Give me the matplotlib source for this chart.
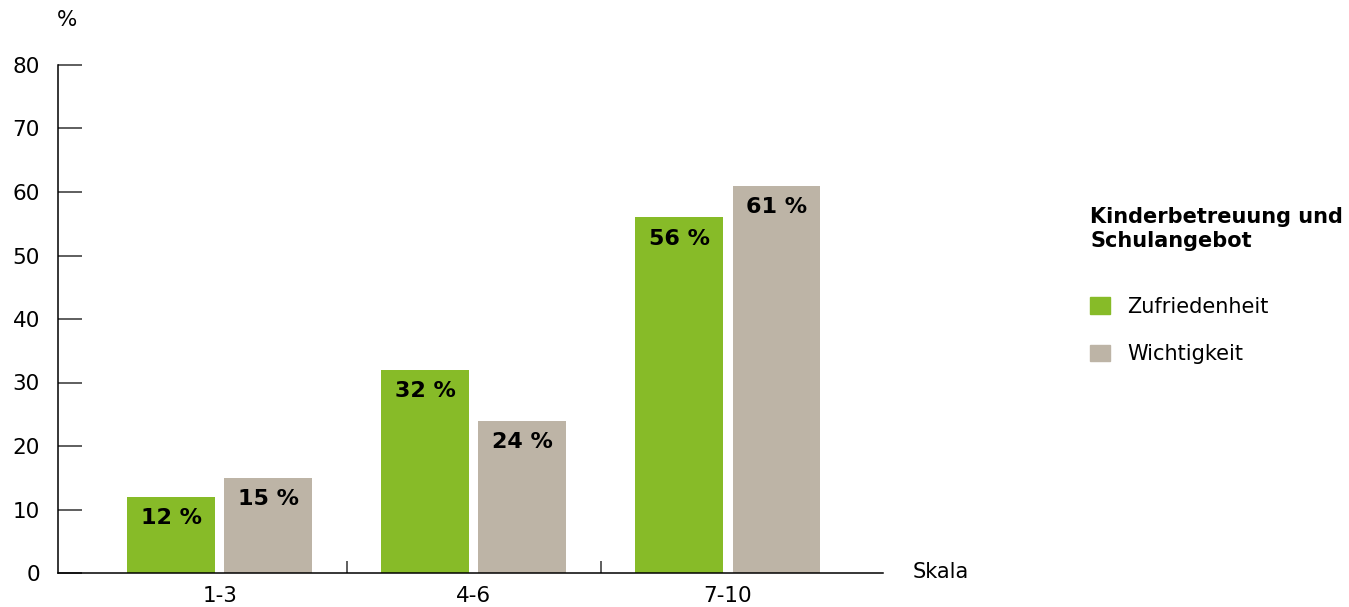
import matplotlib
matplotlib.use("Agg")
import matplotlib.pyplot as plt
import matplotlib.patches as mpatches
import numpy as np

# Zufriedenheit / Wichtigkeit, Kinderbetreuung und Schulangebot
skala = ["1-3", "4-6", "7-10"]
zufriedenheit = [12, 32, 56]
wichtigkeit = [15, 24, 61]
serien = ["Zufriedenheit", "Wichtigkeit"]
farben = ["#87bb28", "#bdb4a6"]

plt.rcParams["font.family"] = "DejaVu Sans"

fig = plt.figure(figsize=(13.49, 6.07), dpi=100)
ax = fig.add_axes([58 / 1349, 34 / 607, 825 / 1349, 508 / 607])

x = np.arange(len(skala))
breite = 0.346
versatz = 0.191

for werte, farbe, dx in [(zufriedenheit, farben[0], -versatz), (wichtigkeit, farben[1], versatz)]:
    balken = ax.bar(x + dx, werte, width=breite, color=farbe)
    for b, w in zip(balken, werte):
        ax.annotate(f"{w} %", (b.get_x() + b.get_width() / 2, w),
                    xytext=(0, -15.5), textcoords="offset points",
                    ha="center", va="center", fontsize=16, fontweight="bold")

ax.set_xlim(-0.636, 2.61)
ax.set_ylim(0, 80)

ax.spines["top"].set_visible(False)
ax.spines["right"].set_visible(False)
ax.spines["left"].set_linewidth(1.1)
ax.spines["bottom"].set_linewidth(1.1)

ax.set_yticks(range(0, 81, 10))
ax.tick_params(axis="y", direction="in", length=17, width=1.1, color="#333333",
               labelsize=15.5, pad=13)

# Trennstriche zwischen den Gruppen, Beschriftung in der Mitte
ax.set_xticks([0.5, 1.5])
ax.set_xticklabels([])
ax.set_xticks(x, minor=True)
ax.set_xticklabels(skala, minor=True)
ax.tick_params(axis="x", which="major", direction="in", length=8.6, width=1.1, color="#333333")
ax.tick_params(axis="x", which="minor", length=0, labelsize=15.5, pad=9.5)

fig.text(67 / 1349, 1 - 20 / 607, "%", fontsize=15.5, ha="center", va="center")
fig.text(913 / 1349, 1 - 572 / 607, "Skala", fontsize=15, ha="left", va="center")

fig.text(1090 / 1349, 1 - 229 / 607, "Kinderbetreuung und\nSchulangebot",
         fontsize=15, fontweight="bold", ha="left", va="center", linespacing=1.3)

handles = [mpatches.Patch(color=c, label=s) for c, s in zip(farben, serien)]
fig.legend(handles=handles, loc="upper left", bbox_to_anchor=(1090 / 1349, 1 - 297 / 607),
           frameon=False, fontsize=15, borderpad=0, borderaxespad=0,
           handlelength=0.95, handleheight=0.85, handletextpad=0.85, labelspacing=1.3)

fig.savefig("out.png", dpi=100)
